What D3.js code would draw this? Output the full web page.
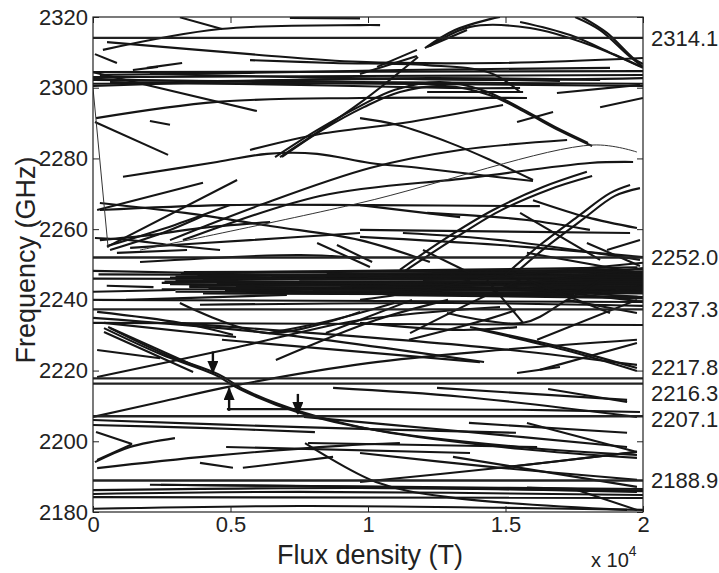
<!DOCTYPE html>
<html>
<head>
<meta charset="utf-8">
<script src="https://cdn.jsdelivr.net/npm/d3@7"></script>
<style>
  body { margin: 0; background: #fff; }
  text { font-family: "Liberation Sans", Arial, Helvetica, sans-serif; fill: #222; }
</style>
</head>
<body>
<div id="chart"></div>
<script>
// levels marked on the right side (GHz)
var levels = [2314.1, 2252.0, 2237.3, 2217.8, 2216.3, 2207.1, 2188.9];

var xTicks = [0, 0.5, 1, 1.5, 2];
var yTicks = [2180, 2200, 2220, 2240, 2260, 2280, 2300, 2320];

// arrows: [flux, from f, to f]
var arrows = [[0.436, 2225.4, 2219.4], [0.495, 2208.6, 2215.0], [0.745, 2213.4, 2207.8]];

// thin lines
var thinCurves = [
  [[0, 2299.9], [0.055, 2254.7]],
  [[0.171, 2254.1], [0.971, 2267.4], [1.818, 2283.8], [1.978, 2281.8]]
];

// dense band near 2245 GHz: [B0, f0, B1, f1]
var bandLines = [
  [0.00, 2246.0, 2.00, 2245.6], [0.26, 2245.2, 2.00, 2244.9], [0.02, 2247.2, 1.90, 2246.8],
  [0.28, 2244.4, 2.00, 2243.8], [0.30, 2246.6, 2.00, 2247.4], [0.33, 2247.9, 1.95, 2248.3],
  [0.25, 2243.0, 2.00, 2242.6], [0.25, 2244.8, 1.98, 2245.3], [0.28, 2246.3, 2.00, 2246.0],
  [0.30, 2242.3, 1.85, 2241.9], [0.30, 2245.5, 2.00, 2244.2], [0.32, 2247.5, 2.00, 2248.6],
  [0.35, 2243.6, 2.00, 2243.2], [0.35, 2244.1, 1.95, 2244.6], [0.38, 2246.9, 2.00, 2247.0],
  [0.40, 2241.8, 1.75, 2241.5], [0.40, 2245.9, 2.00, 2246.5], [0.42, 2243.4, 1.90, 2242.9],
  [0.45, 2244.6, 2.00, 2245.1], [0.45, 2247.7, 1.98, 2249.2], [0.48, 2242.6, 2.00, 2241.8],
  [0.50, 2246.1, 1.92, 2245.7], [0.52, 2243.9, 2.00, 2244.4], [0.55, 2245.0, 2.00, 2243.6],
  [0.55, 2247.1, 2.00, 2247.8], [0.60, 2242.1, 1.98, 2240.9], [0.62, 2244.3, 2.00, 2243.0],
  [0.65, 2246.7, 2.00, 2246.9], [0.70, 2243.1, 2.00, 2242.3], [0.75, 2245.7, 2.00, 2245.8],
  [0.80, 2242.9, 2.00, 2243.4], [0.85, 2247.4, 2.00, 2248.0], [0.90, 2244.0, 2.00, 2242.0],
  [1.00, 2246.4, 2.00, 2247.2], [1.10, 2241.3, 2.00, 2240.5], [1.20, 2245.3, 2.00, 2244.6],
  [1.40, 2246.0, 2.00, 2250.5], [1.50, 2244.0, 2.00, 2239.5], [1.60, 2245.0, 2.00, 2249.0],
  [1.55, 2243.0, 2.00, 2240.8], [0.00, 2248.2, 0.40, 2247.6], [0.00, 2242.3, 0.30, 2242.8],
  [0.05, 2244.0, 0.22, 2243.6]
];

// the other branches, [flux (1e4 T), frequency (GHz)]
var curves = [
  [[0.036, 2310.7], [0.462, 2316.6], [0.971, 2317.7], [1.044, 2317.7]],
  [[0.316, 2319.9], [0.469, 2316.6]],
  [[0.716, 2319.7], [0.971, 2319.6]],
  [[0.051, 2312.9], [0.571, 2309.5], [0.971, 2307.3], [1.48, 2307.0], [2.0, 2308.4]],
  [[0.007, 2309.5], [0.087, 2307.0]],
  [[0.145, 2305.0], [0.236, 2305.9]],
  [[0.196, 2305.6], [0.324, 2307.0]],
  [[0.0, 2304.4], [0.596, 2293.4]],
  [[0, 2304.4], [2, 2304.7]],
  [[0, 2303.0], [0.971, 2303.3], [2, 2303.6]],
  [[0, 2302.2], [0.971, 2301.6], [2, 2301.1]],
  [[0, 2301.1], [0.753, 2301.3], [2, 2300.5]],
  [[0.025, 2303.6], [0.571, 2304.2], [1.116, 2305.0], [1.88, 2305.6]],
  [[0, 2302.5], [0.389, 2301.9], [1.225, 2302.7], [1.844, 2302.2]],
  [[0.062, 2301.6], [0.753, 2300.8], [1.298, 2299.9], [1.553, 2299.9]],
  [[0.207, 2303.9], [0.753, 2303.0], [1.48, 2302.2], [2, 2302.7]],
  [[0, 2300.5], [0.571, 2301.9], [1.116, 2302.5], [1.698, 2301.9]],
  [[1.215, 2298.8], [1.564, 2298.8]],
  [[1.687, 2298.5], [1.989, 2300.8]],
  [[1.542, 2290.3], [1.673, 2293.1]],
  [[1.844, 2294.5], [2, 2297.1]],
  [[0.011, 2291.4], [0.451, 2296.0], [0.971, 2297.1], [1.578, 2297.1]],
  [[0.007, 2290.3], [0.273, 2281.0]],
  [[0.207, 2290.6], [0.28, 2289.5]],
  [[1.207, 2311.2], [1.316, 2316.3], [1.444, 2319.4], [1.48, 2320]],
  [[1.225, 2311.8], [1.371, 2317.2], [1.589, 2316.9], [1.807, 2312.1], [2, 2305.6]],
  [[1.753, 2320], [1.844, 2316.3], [1.945, 2309.3], [2, 2305.9]],
  [[1.778, 2320], [1.869, 2315.5], [1.964, 2308.4], [2, 2306.7]],
  [[1.553, 2318.6], [1.735, 2314.9], [1.898, 2309.3], [1.989, 2306.1]],
  [[0.662, 2280.4], [0.815, 2288.0], [0.971, 2294.8], [1.098, 2299.4], [1.262, 2301.6], [1.425, 2299.1], [1.553, 2294.3], [1.68, 2288.9], [1.8, 2284.4]],
  [[0.687, 2280.4], [0.833, 2288.0], [0.985, 2294.5], [1.116, 2298.8], [1.28, 2300.5], [1.444, 2297.9], [1.571, 2293.1], [1.698, 2287.8], [1.815, 2283.5]],
  [[0.68, 2280.4], [0.971, 2295.7], [1.182, 2308.7]],
  [[0.971, 2303.9], [1.178, 2309.0]],
  [[1.033, 2305.9], [1.178, 2310.7]],
  [[1.215, 2311.5], [1.36, 2316.3]],
  [[0.971, 2291.4], [1.105, 2289.5], [1.298, 2284.4], [1.444, 2279.6], [1.6, 2273.9]],
  [[0.109, 2274.8], [0.451, 2279.0], [0.633, 2281.3], [0.815, 2281.3], [1.007, 2278.7], [1.189, 2277.3], [1.407, 2275.3], [1.6, 2273.6]],
  [[0.571, 2282.4], [0.825, 2286.9], [1.127, 2290.0], [1.491, 2295.1]],
  [[0.28, 2256.9], [0.607, 2266.8], [1.007, 2277.3], [1.335, 2282.4], [1.724, 2285.2]],
  [[0.327, 2256.9], [0.825, 2269.4], [1.371, 2274.5], [1.807, 2278.7], [1.964, 2279.0]],
  [[1.116, 2248.5], [1.273, 2256.9], [1.455, 2265.4], [1.636, 2271.9], [1.796, 2276.2]],
  [[1.135, 2248.2], [1.295, 2256.4], [1.473, 2264.9], [1.655, 2271.1], [1.815, 2275.0]],
  [[1.498, 2247.0], [1.625, 2255.5], [1.76, 2263.4], [1.88, 2270.2], [1.953, 2272.5]],
  [[1.516, 2246.2], [1.644, 2254.7], [1.778, 2262.6], [1.898, 2269.4], [1.989, 2271.6]],
  [[1.6, 2268.2], [1.796, 2263.4], [1.978, 2260.3]],
  [[1.215, 2264.6], [1.578, 2262.6], [1.807, 2259.8]],
  [[0.971, 2266.8], [1.335, 2263.4]],
  [[0.051, 2255.0], [0.524, 2273.9]],
  [[0.051, 2255.2], [0.298, 2261.2], [0.498, 2266.8]],
  [[0.062, 2254.1], [0.262, 2259.2], [0.407, 2264.0]],
  [[0.025, 2256.9], [0.207, 2258.3], [0.389, 2260.3], [0.644, 2262.0]],
  [[0.007, 2257.5], [0.135, 2256.9], [0.28, 2255.5], [0.462, 2254.1]],
  [[0.025, 2265.4], [0.473, 2266.8], [1.007, 2266.8], [1.625, 2266.5]],
  [[0.015, 2265.4], [0.4, 2273.1]],
  [[0.025, 2267.4], [0.335, 2264.6], [0.644, 2260.9], [0.971, 2256.9], [1.225, 2250.7]],
  [[0.135, 2254.7], [0.571, 2256.9], [0.971, 2258.9]],
  [[0.971, 2257.8], [1.48, 2255.5], [2, 2252.1]],
  [[0.971, 2259.8], [1.953, 2258.9]],
  [[1.127, 2258.9], [1.48, 2256.9], [1.989, 2251.3]],
  [[1.553, 2264.6], [1.844, 2251.3]],
  [[1.2, 2254.1], [1.371, 2247.6]],
  [[1.578, 2253.3], [1.989, 2247.6]],
  [[1.796, 2256.1], [1.989, 2249.6]],
  [[1.869, 2254.1], [1.989, 2256.9]],
  [[0.815, 2256.1], [1.007, 2249.3]],
  [[0.887, 2255.5], [1.015, 2250.7]],
  [[0.087, 2253.3], [0.342, 2254.1]],
  [[0.171, 2250.7], [0.753, 2252.7], [0.971, 2251.8]],
  [[0.571, 2307.8], [0.873, 2307.0], [1.215, 2306.4], [1.444, 2304.2], [1.553, 2298.8]],
  [[0, 2240.0], [2, 2239.4]],
  [[0.12, 2240], [0.705, 2241.4]],
  [[0.389, 2238.6], [1.298, 2239.1], [2, 2238.3]],
  [[0, 2233.5], [2, 2232.9]],
  [[0.015, 2218.2], [0.524, 2226.6], [0.971, 2234.3], [1.48, 2238.0]],
  [[0.665, 2223.0], [1.029, 2234.3], [1.291, 2240.0]],
  [[1.149, 2228.7], [1.425, 2234.3], [1.538, 2237.1]],
  [[0.64, 2230.6], [0.873, 2234.3], [1.095, 2239.1]],
  [[0.847, 2230.6], [1.16, 2240.0]],
  [[0, 2234.9], [0.64, 2230.6], [1.422, 2222.4]],
  [[0.04, 2233.5], [0.52, 2229.5]],
  [[0.298, 2233.5], [1.407, 2226.7], [1.978, 2221.6]],
  [[0.469, 2228.7], [1.407, 2222.4]],
  [[0.015, 2236.6], [0.316, 2233.5], [0.509, 2230.1]],
  [[0.316, 2239.1], [0.633, 2230.6], [0.971, 2236.6]],
  [[0.971, 2240], [1.215, 2242.8], [1.371, 2245.6]],
  [[1.153, 2230.6], [1.396, 2240], [1.553, 2245.6]],
  [[1.287, 2236.3], [1.564, 2233.5], [1.724, 2240], [1.844, 2245.6]],
  [[1.433, 2245.6], [1.564, 2233.5]],
  [[1.578, 2245.6], [1.88, 2236.3]],
  [[1.724, 2240], [1.978, 2236.3]],
  [[0.971, 2233.5], [1.335, 2231.5], [1.542, 2232.3]],
  [[1.371, 2232.3], [1.698, 2226.7], [1.978, 2220.7]],
  [[1.389, 2231.8], [1.716, 2225.8], [1.978, 2219.9]],
  [[1.615, 2228.7], [1.978, 2240]],
  [[1.625, 2220.2], [1.978, 2227.8]],
  [[1.542, 2219.3], [1.698, 2221.0]],
  [[0.04, 2232.0], [0.247, 2224.6], [0.444, 2218.8], [0.535, 2214.7], [0.742, 2208.3], [1.025, 2203.2], [1.549, 2198.4], [1.978, 2196.1]],
  [[0.062, 2232.0], [0.262, 2224.6], [0.455, 2219.0], [0.553, 2214.5], [0.76, 2208.3], [1.044, 2202.9], [1.56, 2197.8], [1.978, 2195.3]],
  [[0.04, 2230.9], [0.364, 2219.6]],
  [[0.055, 2232.3], [0.389, 2220.7]],
  [[0, 2206.9], [0.244, 2211.1], [0.505, 2215.6], [1.0, 2222.1], [1.48, 2225.8], [1.978, 2228.7]],
  [[0.873, 2215.1], [1.342, 2212.6], [1.978, 2206.9]],
  [[1.251, 2215.1], [1.942, 2211.7]],
  [[1.655, 2214.8], [1.942, 2211.1]],
  [[0.767, 2206.9], [1.287, 2203.2], [1.942, 2198.4]],
  [[1.367, 2205.2], [1.942, 2202.4]],
  [[0, 2206.0], [0.756, 2204.0], [1.538, 2202.4]],
  [[0, 2204.6], [0.389, 2203.8], [0.807, 2202.6]],
  [[0.484, 2198.4], [1.371, 2196.7]],
  [[0.771, 2199.5], [1.029, 2188.5], [1.291, 2184.2], [1.942, 2180.6]],
  [[0.782, 2199.5], [1.615, 2198.4]],
  [[0.015, 2192.4], [0.425, 2195.8], [0.898, 2198.7], [1.116, 2199.5]],
  [[0.011, 2202.6], [0.142, 2199.2]],
  [[0.142, 2199.2], [0.015, 2194.7]],
  [[0.007, 2194.1], [0.135, 2198.4], [0.298, 2200.9]],
  [[1.578, 2205.2], [1.978, 2197.0]],
  [[1.505, 2192.7], [1.978, 2197.0]],
  [[0.971, 2188.5], [1.48, 2192.5], [1.978, 2197.0]],
  [[0.389, 2193.9], [0.509, 2192.5]],
  [[0.545, 2192.5], [0.873, 2195.6]],
  [[0.015, 2225.8], [0.244, 2223.5]],
  [[0.487, 2209.1], [1.553, 2208.9], [1.989, 2208.3]],
  [[0, 2186.2], [0.971, 2186.8], [2, 2185.9]],
  [[0, 2185.1], [0.753, 2185.7], [2, 2184.8]],
  [[0, 2184.2], [2, 2184.0]],
  [[0.207, 2187.7], [1.116, 2187.1], [2, 2186.5]],
  [[0, 2180.9], [0.753, 2181.7], [1.48, 2181.2], [2, 2180.6]],
  [[1.309, 2195.6], [1.978, 2187.1]],
  [[1.578, 2186.9], [1.978, 2186.0]],
  [[0.971, 2196.7], [1.455, 2192.7], [1.978, 2189.1]],
  [[1.76, 2186.2], [1.978, 2180.6]],
  [[0.247, 2187.7], [1.029, 2187.1], [1.978, 2185.7]]
];

var totalW = 719, totalH = 573;
var margin = { top: 17, left: 93, right: 76, bottom: 61 },
    width = totalW - margin.left - margin.right,
    height = totalH - margin.top - margin.bottom;

var svg = d3.select("#chart")
      .append("svg")
      .attr("width", totalW)
      .attr("height", totalH)
      .append("g")
      .attr("transform", "translate(" + margin.left + "," + margin.top + ")");

var xPositionScale = d3.scaleLinear().domain([0, 2]).range([0, width]);
var yPositionScale = d3.scaleLinear().domain([2180, 2320]).range([height, 0]);

svg.append("clipPath").attr("id", "plotclip")
  .append("rect").attr("width", width).attr("height", height);

var plot = svg.append("g").attr("clip-path", "url(#plotclip)");

var line = d3.line()
  .x(function(d) { return xPositionScale(d[0]); })
  .y(function(d) { return yPositionScale(d[1]); })
  .curve(d3.curveCatmullRom.alpha(0.5));

plot.selectAll(".band")
  .data(bandLines)
  .enter().append("path")
  .attr("class", "band")
  .attr("d", function(d) { return line([[d[0], d[1]], [d[2], d[3]]]); })
  .attr("fill", "none")
  .attr("stroke", "#151515")
  .attr("stroke-width", 2.1);

plot.selectAll(".curve")
  .data(curves)
  .enter().append("path")
  .attr("class", "curve")
  .attr("d", line)
  .attr("fill", "none")
  .attr("stroke", "#151515")
  .attr("stroke-width", 2.1);

plot.selectAll(".thin")
  .data(thinCurves)
  .enter().append("path")
  .attr("class", "thin")
  .attr("d", line)
  .attr("fill", "none")
  .attr("stroke", "#333")
  .attr("stroke-width", 1);

plot.selectAll(".level")
  .data(levels)
  .enter().append("line")
  .attr("class", "level")
  .attr("x1", 0).attr("x2", width)
  .attr("y1", function(d) { return yPositionScale(d); })
  .attr("y2", function(d) { return yPositionScale(d); })
  .attr("stroke", "#222")
  .attr("stroke-width", 2.4);

// arrows
svg.append("defs").append("marker")
  .attr("id", "head")
  .attr("viewBox", "0 0 10 10")
  .attr("refX", 9).attr("refY", 5)
  .attr("markerWidth", 13).attr("markerHeight", 11)
  .attr("markerUnits", "userSpaceOnUse")
  .attr("preserveAspectRatio", "none")
  .attr("orient", "auto")
  .append("path").attr("d", "M0,0 L10,5 L0,10 z").attr("fill", "#111");

svg.selectAll(".arrow")
  .data(arrows)
  .enter().append("line")
  .attr("class", "arrow")
  .attr("x1", function(d) { return xPositionScale(d[0]); })
  .attr("x2", function(d) { return xPositionScale(d[0]); })
  .attr("y1", function(d) { return yPositionScale(d[1]); })
  .attr("y2", function(d) { return yPositionScale(d[2]); })
  .attr("stroke", "#111")
  .attr("stroke-width", 2.4)
  .attr("marker-end", "url(#head)");

// frame
svg.append("rect")
  .attr("width", width).attr("height", height)
  .attr("fill", "none").attr("stroke", "#222").attr("stroke-width", 1.2);

// axes
var xAxis = d3.axisBottom(xPositionScale).tickValues(xTicks).tickFormat(function(d) { return d; })
  .tickSize(-6).tickPadding(4);
svg.append("g").attr("class", "axis x-axis")
  .attr("transform", "translate(0," + height + ")").call(xAxis);

svg.append("g").attr("class", "axis").call(
  d3.axisTop(xPositionScale).tickValues(xTicks).tickSize(-6).tickFormat(""));

var yAxis = d3.axisLeft(yPositionScale).tickValues(yTicks).tickFormat(d3.format("d"))
  .tickSize(-6).tickPadding(5);
svg.append("g").attr("class", "axis y-axis").call(yAxis);

svg.append("g").attr("class", "axis")
  .attr("transform", "translate(" + width + ",0)")
  .call(d3.axisRight(yPositionScale).tickValues(yTicks).tickSize(-6).tickFormat(""));

svg.selectAll(".axis .domain").remove();
svg.selectAll(".axis line").attr("stroke", "#222").attr("stroke-width", 1);
svg.selectAll(".axis text")
  .style("font-family", "'Liberation Sans', Arial, sans-serif")
  .style("font-size", "22px").attr("fill", "#222");

// level labels on the right, spread apart where they crowd
var gap = 26;
var groups = levels.map(function(v) { return { items: [{ v: v, y: yPositionScale(v) }] }; });
groups.forEach(function(g) { g.c = g.items[0].y; });
groups.sort(function(a, b) { return a.c - b.c; });
var merged = true;
while (merged) {
  merged = false;
  for (var i = 0; i < groups.length - 1; i++) {
    var a = groups[i], b = groups[i + 1];
    var aBottom = a.c + (a.items.length - 1) * gap / 2;
    var bTop = b.c - (b.items.length - 1) * gap / 2;
    if (bTop - aBottom < gap) {
      var items = a.items.concat(b.items);
      groups.splice(i, 2, { items: items, c: d3.mean(items, function(d) { return d.y; }) });
      merged = true;
      break;
    }
  }
}
var labelNodes = [];
groups.forEach(function(g) {
  g.items.forEach(function(it, k) {
    labelNodes.push({ v: it.v, y: g.c + (k - (g.items.length - 1) / 2) * gap });
  });
});

svg.selectAll(".level-label")
  .data(labelNodes)
  .enter().append("text")
  .attr("class", "level-label")
  .attr("x", width + 8)
  .attr("y", function(d) { return d.y; })
  .attr("dy", "0.36em")
  .style("font-size", "22px")
  .text(function(d) { return d.v.toFixed(1); });

// titles
svg.append("text")
  .attr("transform", "translate(" + (35 - margin.left) + "," + (260 - margin.top) + ") rotate(-90)")
  .attr("text-anchor", "middle")
  .style("font-size", "27px")
  .text("Frequency (GHz)");

svg.append("text")
  .attr("x", 370 - margin.left)
  .attr("y", 564 - margin.top)
  .attr("text-anchor", "middle")
  .style("font-size", "27px")
  .text("Flux density (T)");

var mult = svg.append("text")
  .attr("x", 591 - margin.left)
  .attr("y", 567 - margin.top)
  .style("font-size", "20px");
mult.append("tspan").text("x 10");
mult.append("tspan").attr("dy", -11).style("font-size", "14px").text("4");
</script>
</body>
</html>
